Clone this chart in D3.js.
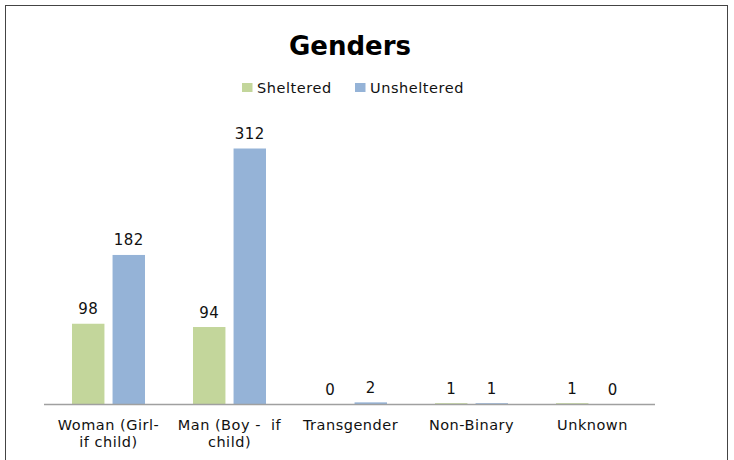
<!DOCTYPE html>
<html><head><meta charset="utf-8">
<script src="https://cdn.jsdelivr.net/npm/d3@7"></script>
<style>body{margin:0;background:#fff}svg{display:block}text{font-family:"DejaVu Sans",sans-serif}</style>
</head><body>
<svg id="c" width="734" height="460"></svg>
<script>
const categories = ["Woman (Girl-|if child)", "Man (Boy -  if|child)", "Transgender", "Non-Binary", "Unknown"];
const seriesNames = ["Sheltered", "Unsheltered"];
const sheltered = [98, 94, 0, 1, 1];
const unsheltered = [182, 312, 2, 1, 0];
const colors = ["#C3D69B", "#95B3D7"];

const svg = d3.select("#c");
svg.append("rect").attr("x",5.5).attr("y",5.5).attr("width",722).attr("height",470)
  .attr("fill","#fff").attr("stroke","#444").attr("stroke-width",1);

const x0 = d3.scaleBand().domain(categories).range([48, 653]).paddingInner(0).paddingOuter(0);
const x1 = d3.scaleBand().domain(seriesNames).range([0, 73]).paddingInner(0.2);
const y = d3.scaleLinear().domain([0, 312]).range([404, 148.5]);

svg.append("text").attr("x",350).attr("y",55).attr("text-anchor","middle")
  .attr("font-size",26).attr("font-weight","bold").attr("fill","#000").text("Genders");

const leg = [{x:242, tx:257}, {x:355, tx:370}];
seriesNames.forEach((s,i)=>{
  svg.append("rect").attr("x",leg[i].x).attr("y",83).attr("width",10.5).attr("height",9).attr("fill",colors[i]);
  svg.append("text").attr("x",leg[i].tx).attr("y",92.5).attr("font-size",14.5)
    .attr("letter-spacing",0.55).attr("fill","#111").text(s);
});

const data = categories.map((c,i)=>({c, vals:[sheltered[i], unsheltered[i]]}));
const g = svg.selectAll("g.cat").data(data).join("g")
  .attr("transform", d=>`translate(${x0(d.c)+x0.bandwidth()/2-36.5},0)`);
g.selectAll("rect").data(d=>d.vals.map((v,i)=>({v,s:seriesNames[i],i}))).join("rect")
  .attr("x",d=>x1(d.s)).attr("width",x1.bandwidth())
  .attr("y",d=>y(d.v)).attr("height",d=>404-y(d.v)).attr("fill",d=>colors[d.i]);
g.selectAll("text").data(d=>d.vals.map((v,i)=>({v,s:seriesNames[i]}))).join("text")
  .attr("x",d=>x1(d.s)+x1.bandwidth()/2).attr("y",d=>y(d.v)-9.5)
  .attr("text-anchor","middle").attr("font-size",15).attr("letter-spacing",0.4).attr("fill","#111").text(d=>d.v);

const axis = d3.axisBottom(x0).tickSize(0).tickFormat("");
const ax = svg.append("g").attr("transform","translate(0,404)").call(axis);
ax.select(".domain").attr("d","M44,0.5H655").attr("stroke","#a0a0a0").attr("stroke-width",1.5);

categories.forEach(c=>{
  const lines = c.split("|");
  const cx = x0(c)+x0.bandwidth()/2;
  const t = svg.append("text").attr("x",cx).attr("y",430)
    .attr("text-anchor","middle").attr("font-size",14.5).attr("letter-spacing",0.5).attr("fill","#111");
  lines.forEach((l,j)=>t.append("tspan").attr("x",cx).attr("dy",j?17:0).attr("xml:space","preserve").text(l));
});
</script>
</body></html>
